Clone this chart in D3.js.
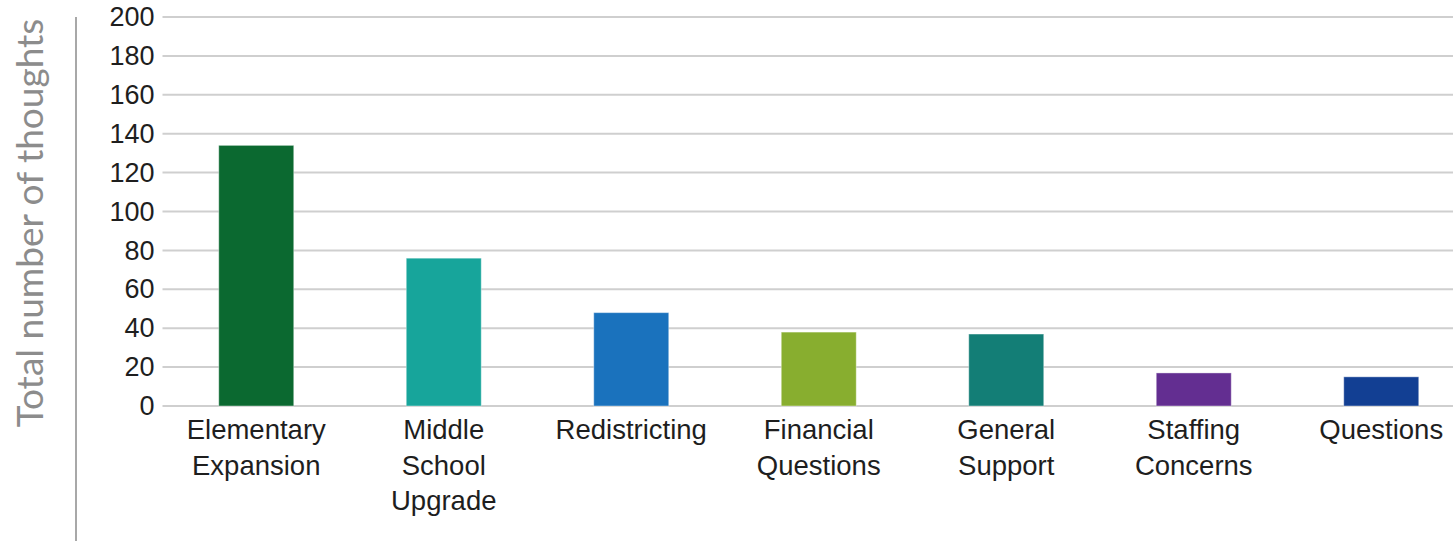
<!DOCTYPE html>
<html>
<head>
<meta charset="utf-8">
<script src="https://cdn.jsdelivr.net/npm/d3@7"></script>
<style>
	body { margin: 0; background: #fff; }
	svg { display: block; }
</style>
</head>
<body>
<div id="container"></div>
<script>
// data
const categories = [
	["Elementary", "Expansion"],
	["Middle", "School", "Upgrade"],
	["Redistricting"],
	["Financial", "Questions"],
	["General", "Support"],
	["Staffing", "Concerns"],
	["Questions"],
]
const values = [134, 76, 48, 38, 37, 17, 15]
const colors = ["#0b6930", "#17a59b", "#1a72bd", "#88ae2f", "#137e76", "#632e91", "#123f93"]
const yTicks = [0, 20, 40, 60, 80, 100, 120, 140, 160, 180, 200]

const width = 1453
const height = 541
const marginLeft = 162.5
const marginTop = 17
const zero = 406

const svg = d3.select("#container")
	.append("svg")
	.attr("width", width)
	.attr("height", height)

const x = d3.scaleBand()
	.domain(d3.range(categories.length))
	.range([marginLeft, marginLeft + 187.5 * categories.length])
	.paddingInner(0.6)
	.paddingOuter(0.3)

const y = d3.scaleLinear()
	.domain([0, 200])
	.range([zero, marginTop])

// grid lines
svg.append("g")
	.selectAll("line")
	.data(yTicks)
	.join("line")
	.attr("x1", marginLeft)
	.attr("x2", width)
	.attr("y1", d => y(d))
	.attr("y2", d => y(d))
	.attr("stroke", "#cfcfcf")
	.attr("stroke-width", 2)

// y axis
const yAxis = svg.append("g")
	.attr("transform", `translate(${marginLeft},0)`)
	.call(d3.axisLeft(y).tickValues(yTicks).tickSize(0).tickPadding(8))
yAxis.select(".domain").remove()
yAxis.selectAll("text")
	.attr("font-family", "Liberation Sans, Arial, sans-serif")
	.attr("font-size", 27)
	.attr("fill", "#1e1e1e")

// bars
svg.append("g")
	.selectAll("rect")
	.data(values)
	.join("rect")
	.attr("x", (d, i) => x(i))
	.attr("width", x.bandwidth())
	.attr("y", d => y(d))
	.attr("height", d => y(0) - y(d))
	.attr("fill", (d, i) => colors[i])
	.attr("stroke", "#ffffff")
	.attr("stroke-opacity", 0.4)
	.attr("stroke-width", 1)

// category labels
svg.append("g")
	.selectAll("text")
	.data(categories)
	.join("text")
	.attr("text-anchor", "middle")
	.attr("font-family", "Liberation Sans, Arial, sans-serif")
	.attr("font-size", 27.5)
	.attr("fill", "#1e1e1e")
	.attr("y", 439)
	.each(function (lines, i) {
		d3.select(this).selectAll("tspan")
			.data(lines)
			.join("tspan")
			.attr("x", x(i) + x.bandwidth() / 2)
			.attr("dy", (d, j) => j === 0 ? 0 : 35.5)
			.text(d => d)
	})

// vertical rule next to title
svg.append("line")
	.attr("x1", 76)
	.attr("x2", 76)
	.attr("y1", marginTop)
	.attr("y2", height)
	.attr("stroke", "#a8a8a8")
	.attr("stroke-width", 2)

// y title
svg.append("text")
	.attr("transform", "translate(43,223) rotate(-90)")
	.attr("text-anchor", "middle")
	.attr("font-family", "Lato, sans-serif")
	.attr("font-size", 37)
	.attr("fill", "#8c8c8c")
	.text("Total number of thoughts")
</script>
</body>
</html>
